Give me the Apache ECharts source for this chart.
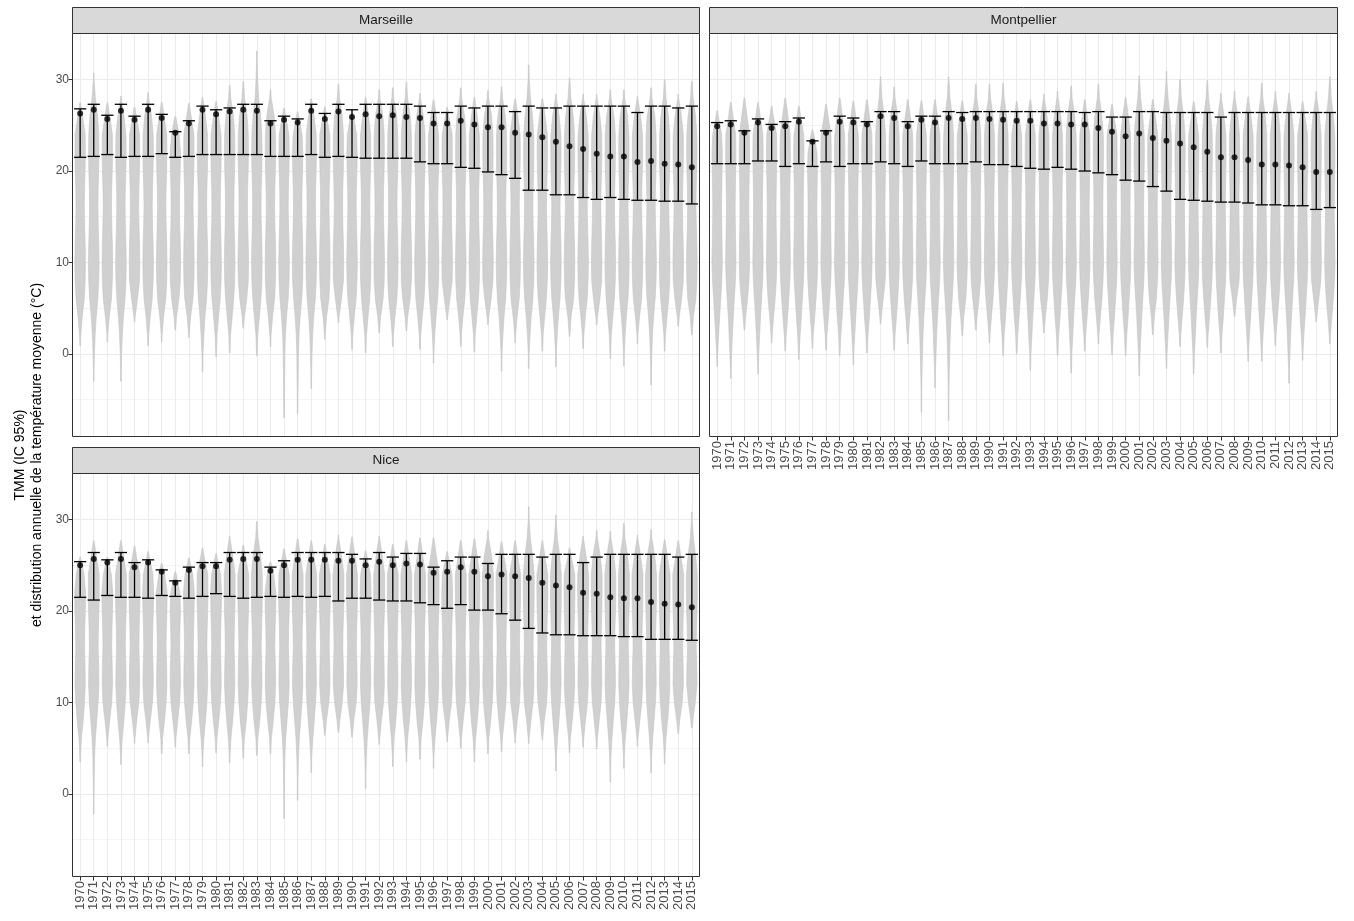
<!DOCTYPE html>
<html>
<head>
<meta charset="utf-8">
<script src="https://cdn.jsdelivr.net/npm/echarts@6/dist/echarts.min.js"></script>
<style>
  html, body { margin: 0; padding: 0; background: #fff; }
  #chart { width: 1354px; height: 921px; }
</style>
</head>
<body>
<div id="chart"></div>
<script>
// years on the x axis
const years = ['1970', '1971', '1972', '1973', '1974', '1975', '1976', '1977', '1978', '1979',
  '1980', '1981', '1982', '1983', '1984', '1985', '1986', '1987', '1988', '1989',
  '1990', '1991', '1992', '1993', '1994', '1995', '1996', '1997', '1998', '1999',
  '2000', '2001', '2002', '2003', '2004', '2005', '2006', '2007', '2008', '2009',
  '2010', '2011', '2012', '2013', '2014', '2015'];
const yMajor = [0, 10, 20, 30];
const yMinor = [-5, 5, 15, 25];

// Marseille
const marseilleMean = [26.3, 26.7, 25.7, 26.6, 25.6, 26.7, 25.8, 24.2, 25.2, 26.7, 26.2, 26.5, 26.7, 26.6, 25.2, 25.6, 25.3, 26.6, 25.7, 26.5, 25.9, 26.2, 26.0, 26.1, 25.9, 25.8, 25.2, 25.2, 25.5, 25.1, 24.8, 24.8, 24.2, 24.0, 23.7, 23.2, 22.7, 22.4, 21.9, 21.6, 21.6, 21.0, 21.1, 20.8, 20.7, 20.4];
const marseilleLow = [21.5, 21.6, 21.8, 21.5, 21.6, 21.6, 21.9, 21.5, 21.6, 21.8, 21.8, 21.8, 21.8, 21.8, 21.6, 21.6, 21.6, 21.8, 21.5, 21.6, 21.5, 21.4, 21.4, 21.4, 21.4, 21.0, 20.8, 20.8, 20.4, 20.3, 19.9, 19.6, 19.2, 17.9, 17.9, 17.4, 17.4, 17.1, 16.9, 17.1, 16.9, 16.8, 16.8, 16.7, 16.7, 16.4];
const marseilleHigh = [26.8, 27.3, 26.1, 27.3, 26.0, 27.3, 26.2, 24.3, 25.5, 27.1, 26.7, 26.9, 27.3, 27.3, 25.5, 26.0, 25.7, 27.3, 26.3, 27.3, 26.7, 27.3, 27.3, 27.3, 27.3, 27.1, 26.4, 26.4, 27.1, 26.9, 27.1, 27.1, 26.5, 27.1, 26.9, 26.9, 27.1, 27.1, 27.1, 27.1, 27.1, 26.4, 27.1, 27.1, 26.9, 27.1];
const marseilleMin = [0.9, -3.0, 1.3, -3.0, 3.5, 0.9, 1.3, 2.6, 1.8, -2.0, -0.3, 0.1, 2.8, -0.2, 0.8, -7.0, -6.5, -3.8, 1.6, 3.4, 0.5, 0.1, 2.3, 0.8, 2.5, 0.5, -1.0, 3.7, 0.8, 0.2, 3.2, -1.9, 1.2, -1.6, 0.3, -1.4, 1.9, 0.6, 3.2, -0.5, -1.3, 1.1, -3.4, 0.3, 3.0, 2.1];
const marseilleMax = [27.5, 30.7, 27.5, 28.2, 27.0, 28.6, 27.5, 26.0, 27.4, 28.1, 27.6, 29.4, 29.8, 33.1, 28.9, 26.9, 26.5, 27.9, 27.0, 29.5, 26.7, 28.1, 28.9, 29.1, 29.7, 28.5, 27.8, 27.0, 29.1, 28.1, 28.8, 29.2, 27.9, 31.6, 27.9, 28.4, 30.2, 28.4, 28.4, 28.9, 28.9, 28.2, 29.1, 30.0, 28.4, 29.8];

// Montpellier
const montpellierMean = [24.9, 25.1, 24.2, 25.3, 24.7, 24.9, 25.4, 23.2, 24.2, 25.4, 25.3, 25.1, 26.0, 25.8, 24.9, 25.6, 25.3, 25.8, 25.7, 25.8, 25.7, 25.6, 25.5, 25.5, 25.2, 25.2, 25.1, 25.1, 24.7, 24.3, 23.8, 24.1, 23.6, 23.3, 23.0, 22.6, 22.1, 21.5, 21.5, 21.2, 20.7, 20.7, 20.6, 20.4, 19.9, 19.9];
const montpellierLow = [20.8, 20.8, 20.8, 21.1, 21.1, 20.5, 20.8, 20.5, 21.0, 20.5, 20.8, 20.8, 21.0, 20.8, 20.5, 21.1, 20.8, 20.8, 20.8, 21.0, 20.7, 20.7, 20.5, 20.3, 20.2, 20.4, 20.2, 20.0, 19.8, 19.6, 19.0, 18.9, 18.3, 17.8, 16.9, 16.8, 16.7, 16.6, 16.6, 16.5, 16.3, 16.3, 16.2, 16.2, 15.8, 16.0];
const montpellierHigh = [25.3, 25.5, 24.4, 25.7, 25.1, 25.4, 25.8, 23.3, 24.4, 26.0, 25.8, 25.4, 26.5, 26.5, 25.4, 26.0, 26.0, 26.5, 26.4, 26.5, 26.5, 26.5, 26.5, 26.5, 26.5, 26.5, 26.5, 26.4, 26.5, 25.9, 25.9, 26.5, 26.5, 26.4, 26.4, 26.4, 26.4, 25.9, 26.4, 26.4, 26.4, 26.4, 26.4, 26.4, 26.4, 26.4];
const montpellierMin = [-1.4, -2.7, 2.6, -2.2, 1.2, 0.3, -0.6, 0.6, 0.4, -0.2, -1.2, 0.1, 3.3, 0.4, 1.1, -6.4, -3.7, -7.3, 2.0, 2.6, 1.2, -0.2, 0.0, -1.8, 2.3, -0.2, -2.1, 0.3, 1.1, -0.1, -0.2, -2.4, 2.1, -1.6, 0.8, -2.2, 0.7, 0.1, 4.1, -0.8, -0.8, 0.9, -3.2, -0.7, 3.5, 1.1];
const montpellierMax = [26.6, 27.5, 28.0, 27.5, 27.1, 28.0, 27.1, 24.5, 27.3, 28.0, 27.7, 27.8, 30.3, 29.2, 27.8, 27.7, 27.8, 30.3, 27.7, 29.5, 29.5, 29.6, 27.6, 27.8, 28.4, 28.7, 29.3, 27.8, 29.5, 27.3, 28.1, 30.4, 27.8, 30.9, 30.0, 27.6, 29.9, 28.5, 28.7, 28.1, 29.6, 28.7, 28.5, 27.6, 28.7, 30.3];

// Nice
const niceMean = [25.0, 25.7, 25.3, 25.7, 24.8, 25.3, 24.3, 23.1, 24.5, 24.9, 24.9, 25.6, 25.7, 25.7, 24.4, 25.0, 25.6, 25.6, 25.6, 25.5, 25.5, 25.0, 25.4, 25.0, 25.2, 25.1, 24.2, 24.3, 24.8, 24.3, 23.8, 24.0, 23.8, 23.6, 23.1, 22.8, 22.6, 22.0, 21.9, 21.5, 21.4, 21.4, 21.0, 20.8, 20.7, 20.4];
const niceLow = [21.5, 21.2, 21.7, 21.5, 21.5, 21.4, 21.7, 21.6, 21.4, 21.6, 21.9, 21.6, 21.4, 21.5, 21.6, 21.5, 21.6, 21.5, 21.6, 21.1, 21.4, 21.4, 21.2, 21.1, 21.1, 20.9, 20.7, 20.3, 20.7, 20.1, 20.1, 19.7, 19.0, 18.1, 17.6, 17.4, 17.4, 17.3, 17.3, 17.3, 17.2, 17.2, 16.9, 16.9, 16.9, 16.8];
const niceHigh = [25.4, 26.4, 25.6, 26.4, 25.3, 25.6, 24.5, 23.3, 24.8, 25.3, 25.3, 26.4, 26.4, 26.4, 24.8, 25.5, 26.4, 26.4, 26.4, 26.4, 26.2, 25.7, 26.4, 25.9, 26.3, 26.3, 24.8, 25.5, 25.9, 25.9, 25.2, 26.2, 26.2, 26.2, 25.9, 26.2, 26.2, 25.3, 25.9, 26.2, 26.2, 26.2, 26.2, 26.2, 25.9, 26.2];
const niceMin = [3.5, -2.2, 5.2, 3.2, 5.5, 5.6, 4.4, 5.1, 4.4, 3.0, 4.5, 3.4, 3.9, 4.2, 4.4, -2.7, -0.7, 2.3, 6.4, 6.7, 6.2, 0.6, 5.4, 3.0, 3.5, 3.8, 2.8, 5.7, 5.0, 3.5, 4.4, 4.6, 5.6, 5.5, 5.9, 2.5, 4.5, 5.1, 4.9, 1.3, 2.8, 5.2, 2.3, 3.3, 6.6, 7.2];
const niceMax = [25.9, 27.7, 25.9, 27.7, 27.1, 26.5, 25.2, 24.3, 25.8, 26.9, 26.3, 28.2, 27.2, 29.8, 25.4, 26.8, 27.9, 27.7, 27.3, 28.3, 28.1, 26.6, 28.2, 27.3, 27.7, 28.0, 28.0, 26.5, 27.7, 27.9, 28.8, 27.6, 27.7, 31.4, 27.7, 30.5, 26.9, 28.2, 28.8, 28.7, 29.6, 28.3, 28.9, 27.8, 27.7, 30.8];

// violin width profile (relative), read at these temperatures
const profileTemps = [-8, -6, -4, -2, 0, 2, 4, 6, 8, 10, 12, 14, 16, 18, 20, 22, 24, 26, 28, 30, 32, 34];
const marseilleProfile = [0.08, 0.08, 0.1, 0.12, 0.15, 0.25, 0.45, 0.75, 0.92, 0.97, 0.92, 0.82, 0.76, 0.8, 0.9, 0.95, 0.92, 0.7, 0.32, 0.15, 0.1, 0.08];
const montpellierProfile = [0.06, 0.07, 0.08, 0.12, 0.2, 0.3, 0.45, 0.65, 0.85, 0.95, 0.9, 0.84, 0.8, 0.84, 0.9, 0.95, 0.9, 0.65, 0.3, 0.12, 0.08, 0.06];
const niceProfile = [0.05, 0.05, 0.05, 0.06, 0.08, 0.1, 0.15, 0.3, 0.55, 0.8, 0.95, 0.9, 0.8, 0.85, 0.95, 1.0, 1.0, 0.7, 0.3, 0.12, 0.08, 0.06];

const FONT = '"Liberation Sans", Arial, sans-serif';
const yearIdx = years.map(function (y, i) { return i; });

const chart = echarts.init(document.getElementById('chart'));

function makeViolin(profile) {
  return function (params, api) {
    const x = api.value(0);
    const lo = api.value(1);
    const hi = api.value(2);
    const halfUnit = api.size([0.4, 0])[0];
    const ts = [lo];
    const ws = [0.06];
    profileTemps.forEach(function (t, k) {
      if (t > lo && t < hi) {
        const taper = Math.min(1, Math.pow((t - lo) / 4, 0.7), Math.pow((hi - t) / 3, 0.7));
        ts.push(t);
        ws.push(Math.max(0.06, profile[k] * taper));
      }
    });
    ts.push(hi);
    ws.push(0.06);
    const left = [];
    const right = [];
    ts.forEach(function (t, k) {
      const c = api.coord([x, t]);
      const w = ws[k] * halfUnit;
      left.push([c[0] - w, c[1]]);
      right.unshift([c[0] + w, c[1]]);
    });
    return {
      type: 'polygon',
      shape: { points: left.concat(right) },
      style: { fill: '#d0d0d0', stroke: '#c4c4c4', lineWidth: 0.6 }
    };
  };
}

function renderErrorBar(params, api) {
  const x = api.value(0);
  const a = api.coord([x, api.value(1)]);
  const b = api.coord([x, api.value(2)]);
  const half = api.size([0.45, 0])[0];
  const st = { stroke: '#000', lineWidth: 1.3 };
  return {
    type: 'group',
    children: [
      { type: 'line', shape: { x1: a[0], y1: a[1], x2: b[0], y2: b[1] }, style: st },
      { type: 'line', shape: { x1: a[0] - half, y1: a[1], x2: a[0] + half, y2: a[1] }, style: st },
      { type: 'line', shape: { x1: b[0] - half, y1: b[1], x2: b[0] + half, y2: b[1] }, style: st }
    ]
  };
}

const panels = [
  { name: 'Marseille', left: 72, top: 33, width: 628, xLabels: false, yLabels: true,
    mean: marseilleMean, low: marseilleLow, high: marseilleHigh, min: marseilleMin, max: marseilleMax, profile: marseilleProfile },
  { name: 'Montpellier', left: 709, top: 33, width: 629, xLabels: true, yLabels: false,
    mean: montpellierMean, low: montpellierLow, high: montpellierHigh, min: montpellierMin, max: montpellierMax, profile: montpellierProfile },
  { name: 'Nice', left: 72, top: 473, width: 628, xLabels: true, yLabels: true,
    mean: niceMean, low: niceLow, high: niceHigh, min: niceMin, max: niceMax, profile: niceProfile }
];
const PANEL_H = 404;
const STRIP_H = 26;

const grid = [], xAxis = [], yAxis = [], series = [], graphic = [];

panels.forEach(function (p, g) {
  grid.push({
    left: p.left, top: p.top, width: p.width, height: PANEL_H,
    show: true, backgroundColor: '#fff', borderWidth: 0
  });
  xAxis.push({
    type: 'value', gridIndex: g, min: -0.6, max: 45.6,
    axisLine: { show: false, onZero: false },
    axisTick: { show: p.xLabels, length: 3.5, customValues: yearIdx, lineStyle: { color: '#333333', width: 1 } },
    axisLabel: {
      show: p.xLabels, customValues: yearIdx, rotate: 90, margin: 4,
      color: '#4d4d4d', fontSize: 13, fontFamily: FONT,
      formatter: function (v) { return years[Math.round(v)]; }
    },
    splitLine: { show: true, lineStyle: { color: '#ebebeb', width: 1 } }
  });
  yAxis.push({
    type: 'value', gridIndex: g, min: -9.1, max: 35.1,
    axisLine: { show: false, onZero: false },
    axisTick: { show: p.yLabels, length: 3.5, customValues: yMajor, lineStyle: { color: '#333333', width: 1 } },
    axisLabel: { show: p.yLabels, customValues: yMajor, margin: 3, color: '#4d4d4d', fontSize: 12, fontFamily: FONT },
    splitLine: { show: true, lineStyle: { color: '#ebebeb', width: 1 } }
  });
  yAxis.push({
    type: 'value', gridIndex: g, min: -9.1, max: 35.1,
    axisLine: { show: false, onZero: false },
    axisTick: { show: false, customValues: yMinor },
    axisLabel: { show: false, customValues: yMinor },
    splitLine: { show: true, lineStyle: { color: '#f4f4f4', width: 1 } }
  });

  const violinData = p.min.map(function (v, i) { return [i, v, p.max[i]]; });
  const barData = p.low.map(function (v, i) { return [i, v, p.high[i]]; });
  const pointData = p.mean.map(function (v, i) { return [i, v]; });

  series.push({
    type: 'custom', name: p.name + ' distribution', xAxisIndex: g, yAxisIndex: 2 * g,
    renderItem: makeViolin(p.profile), data: violinData, z: 2, silent: true,
    encode: { x: 0, y: [1, 2] }
  });
  series.push({
    type: 'custom', name: p.name + ' IC', xAxisIndex: g, yAxisIndex: 2 * g,
    renderItem: renderErrorBar, data: barData, z: 3, silent: true,
    encode: { x: 0, y: [1, 2] }
  });
  series.push({
    type: 'scatter', name: p.name + ' TMM', xAxisIndex: g, yAxisIndex: 2 * g,
    data: pointData, symbol: 'circle', symbolSize: 6, z: 4, silent: true,
    itemStyle: { color: '#000' }
  });

  // panel border on top, strip above
  graphic.push({
    type: 'rect', z: 100, shape: { x: p.left + 0.5, y: p.top + 0.5, width: p.width - 1, height: PANEL_H - 1 },
    style: { fill: null, stroke: '#333333', lineWidth: 1 }, silent: true
  });
  graphic.push({
    type: 'rect', z: 100, shape: { x: p.left + 0.5, y: p.top - STRIP_H + 0.5, width: p.width - 1, height: STRIP_H },
    style: { fill: '#d9d9d9', stroke: '#333333', lineWidth: 1 }, silent: true
  });
  graphic.push({
    type: 'text', z: 101, x: p.left + p.width / 2, y: p.top - STRIP_H / 2 + 0.5,
    style: { text: p.name, fill: '#1a1a1a', font: '13.5px ' + FONT, align: 'center', verticalAlign: 'middle' },
    silent: true
  });
});

graphic.push({
  type: 'text', x: 29, y: 455, rotation: Math.PI / 2,
  style: {
    text: 'TMM (IC 95%)\net distribution annuelle de la température moyenne (°C)',
    fill: '#000', font: '14px ' + FONT, align: 'center', verticalAlign: 'middle', lineHeight: 17
  },
  silent: true
});

chart.setOption({
  animation: false,
  backgroundColor: '#fff',
  grid: grid,
  xAxis: xAxis,
  yAxis: yAxis,
  series: series,
  graphic: graphic
});
</script>
</body>
</html>
